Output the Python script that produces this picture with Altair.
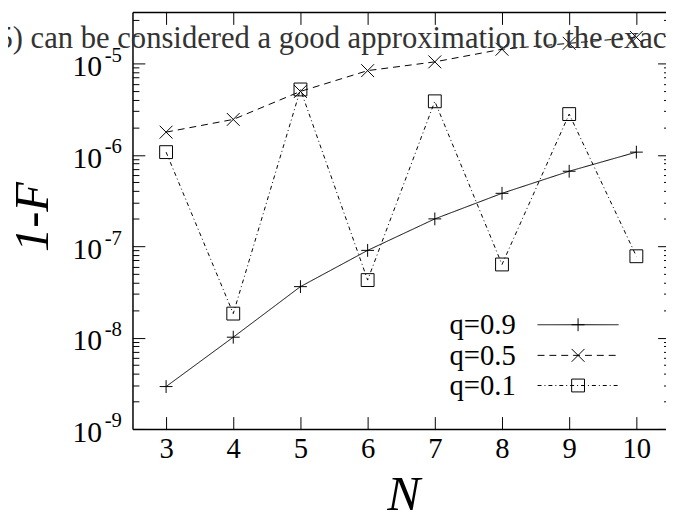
import altair as alt
import pandas as pd

# ---------------- data ----------------
N_VALUES = [3, 4, 5, 6, 7, 8, 9, 10]
Q09 = [2.91e-9, 1.01e-8, 3.61e-8, 9.0e-8, 1.99e-7, 3.79e-7, 6.61e-7, 1.07e-6]
Q05 = [1.77e-6, 2.44e-6, 4.94e-6, 8.34e-6, 1.04e-5, 1.43e-5, 1.66e-5, 1.93e-5]
Q01 = [1.07e-6, 1.83e-8, 5.19e-6, 4.26e-8, 3.85e-6, 6.31e-8, 2.79e-6, 7.76e-8]
SERIES = ["q=0.9", "q=0.5", "q=0.1"]

X_TICKS = [3, 4, 5, 6, 7, 8, 9, 10]
Y_EXPONENTS = [-9, -8, -7, -6, -5]
X_DOMAIN = [2.5, 10.441]
Y_DOMAIN = [1e-9, 3.65e-5]
PAGE_TEXT = "(5) can be considered a good approximation to the exact"

# ---------------- styling ----------------
FONT = "Liberation Serif"
W, H = 540, 422
PLUS = "M-1,0L1,0M0,-1L0,1"
CROSS = "M-1,-1L1,1M-1,1L1,-1"
SHAPES = [PLUS, CROSS, "square"]
DASHES = [[1, 0], [7, 5], [4, 3, 1, 3]]
MAJ, MIN = 12.5, 6.5

Y_MAJOR = [10.0 ** e for e in Y_EXPONENTS]
Y_MINOR = [m * 10.0 ** e for e in range(-9, -4) for m in range(2, 10)
           if m * 10.0 ** e <= Y_DOMAIN[1]]

rows = []
for s, vals in zip(SERIES, [Q09, Q05, Q01]):
    for n, v in zip(N_VALUES, vals):
        rows.append({"N": n, "value": v, "series": s})
df = pd.DataFrame(rows)

x_scale = alt.Scale(domain=X_DOMAIN, nice=False, zero=False)
y_scale = alt.Scale(type="log", domain=Y_DOMAIN, nice=False)


def tick_axis(orient, offset, values, size, domain):
    return alt.Axis(orient=orient, offset=offset, values=values, tickSize=size,
                    ticks=True, labels=False, domain=domain, grid=False, title=None,
                    tickColor="black", tickWidth=1, domainColor="black",
                    domainWidth=1.5)


lines = alt.Chart(df).mark_line(color="black", strokeWidth=1).encode(
    x=alt.X("N:Q", scale=x_scale, axis=alt.Axis(
        orient="bottom", values=X_TICKS, format="d", ticks=False, tickSize=0,
        domain=False, grid=False, labelFont=FONT, labelFontSize=29,
        labelColor="black", labelBaseline="alphabetic", labelPadding=29,
        labelFlush=False, labelOverlap=False, title="N", titleFont=FONT,
        titleFontSize=50, titleFontStyle="italic", titleFontWeight="normal",
        titleColor="black", titleX=274, titleY=82, titleBaseline="alphabetic",
        titleAlign="center")),
    y=alt.Y("value:Q", scale=y_scale, axis=alt.Axis(
        orient="left", labels=False, ticks=False, domain=False, grid=False,
        title="1-F", titleFont=FONT, titleFontSize=49, titleFontStyle="italic",
        titleFontWeight="normal", titleColor="black", titleX=-101, titleY=207,
        titleAngle=270, titleAlign="center", titleBaseline="middle")),
    strokeDash=alt.StrokeDash("series:N", scale=alt.Scale(domain=SERIES, range=DASHES),
                              legend=None),
    detail="series:N",
)

points = alt.Chart(df).mark_point(filled=False, color="black", strokeWidth=1,
                                  size=169, opacity=1).encode(
    x=alt.X("N:Q", scale=x_scale, axis=tick_axis("top", -H, X_TICKS, MAJ, True)),
    y=alt.Y("value:Q", scale=y_scale, axis=tick_axis("right", -W, Y_MAJOR, MAJ, True)),
    shape=alt.Shape("series:N", scale=alt.Scale(domain=SERIES, range=SHAPES),
                    legend=None),
)

lab_df = pd.DataFrame({"value": Y_MAJOR, "exp": [str(e) for e in Y_EXPONENTS]})

ten = alt.Chart(lab_df).mark_text(text="10", font=FONT, fontSize=30, align="right",
                                  baseline="alphabetic", dy=13, color="black").encode(
    x=alt.value(-30.7),
    y=alt.Y("value:Q", scale=y_scale, axis=tick_axis("right", -W, Y_MINOR, MIN, False)),
)

expo = alt.Chart(lab_df).mark_text(font=FONT, fontSize=21, align="right",
                                   baseline="alphabetic", dy=-1.5, color="black").encode(
    x=alt.value(-10.7),
    y=alt.Y("value:Q", scale=y_scale, axis=tick_axis("left", -(W + 4), Y_MAJOR, MAJ, False)),
    text="exp:N",
)

ghost = alt.Chart(df).mark_point(opacity=0).encode(
    x=alt.X("N:Q", scale=x_scale, axis=tick_axis("bottom", -H, X_TICKS, MAJ, True)),
    y=alt.Y("value:Q", scale=y_scale, axis=tick_axis("left", -(W + 4), Y_MINOR, MIN, False)),
)

# ---------------- key (drawn like gnuplot's) ----------------
LEG_Y = [316.5, 347.5, 378.0]
legend_layers = []
for i, s in enumerate(SERIES):
    one = pd.DataFrame({"label": [s]})
    legend_layers.append(alt.Chart(one).mark_text(
        font=FONT, fontSize=29, align="right", baseline="alphabetic",
        color="black").encode(x=alt.value(388), y=alt.value(LEG_Y[i] + 9.8),
                              text="label:N"))
    legend_layers.append(alt.Chart(one).mark_rule(
        color="black", strokeWidth=1, strokeDash=DASHES[i]).encode(
        x=alt.value(410), x2=alt.value(492), y=alt.value(LEG_Y[i])))
    legend_layers.append(alt.Chart(one).mark_point(
        shape=SHAPES[i], size=169, filled=False, color="black", strokeWidth=1,
        opacity=1).encode(x=alt.value(451), y=alt.value(LEG_Y[i])))

# ---------------- stray line of page text ----------------
page_text = alt.Chart(pd.DataFrame({"t": [PAGE_TEXT]})).mark_text(
    font=FONT, fontSize=31, align="left", baseline="alphabetic",
    color="#333333").encode(x=alt.value(-147), y=alt.value(36), text="t:N")

chart = alt.layer(lines, points, ten, expo, ghost, *legend_layers, page_text).resolve_axis(
    x="independent", y="independent"
).properties(
    width=W, height=H,
    padding={"left": 126, "top": 1, "right": 0, "bottom": 85},
    autosize=alt.AutoSizeParams(type="none"),
).configure_view(stroke=None).configure_axis(grid=False)

chart.save("out.html", embed_options={"renderer": "svg", "actions": False})
